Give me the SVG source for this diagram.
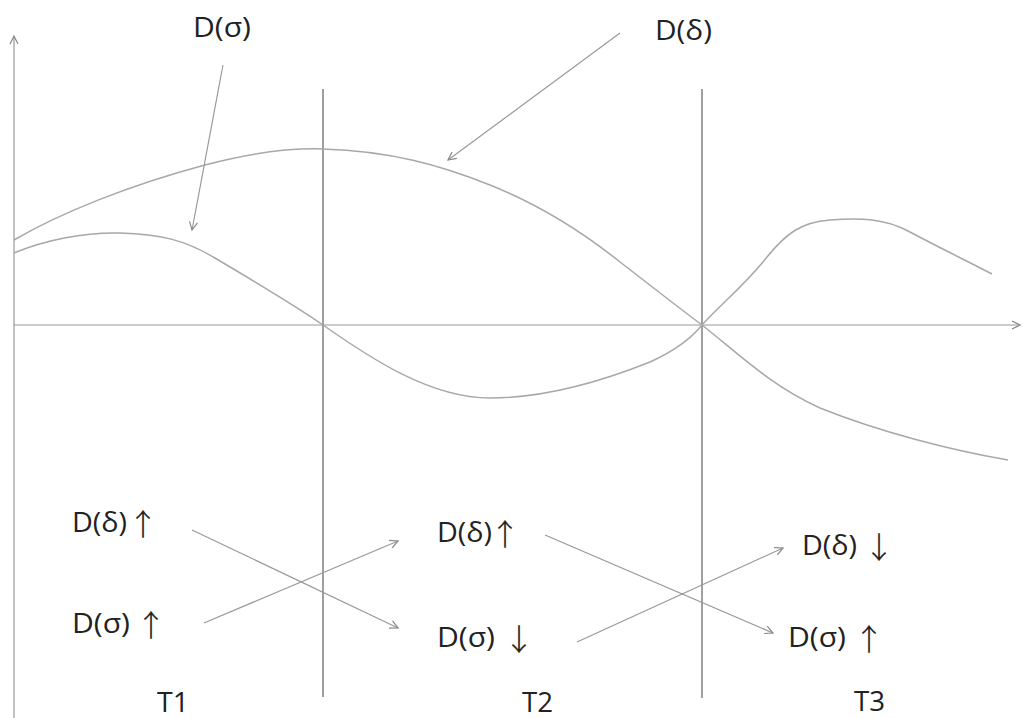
<svg xmlns="http://www.w3.org/2000/svg" width="1023" height="718" viewBox="0 0 1023 718">
<style>
.t{font-family:"Open Sans","DejaVu Sans",sans-serif;font-size:28px;fill:#222;}
.a{font-family:"Noto Sans CJK SC","DejaVu Sans",sans-serif;font-size:30px;font-weight:300;fill:#222;stroke:#222;stroke-width:0.2;text-anchor:middle;}
.axis{stroke:#999;stroke-width:1.2;fill:none;}
.vline{stroke:#777;stroke-width:1.4;fill:none;}
.curve{stroke:#a8a8a8;stroke-width:1.5;fill:none;}
.arr{stroke:#999;stroke-width:1.2;fill:none;marker-end:url(#ah);}
</style>
<defs>
<marker id="ah" markerWidth="12" markerHeight="12" refX="9" refY="5" orient="auto" markerUnits="userSpaceOnUse">
<path d="M1,1 L9,5 L1,9" fill="none" stroke="#888" stroke-width="1.2"/>
</marker>
</defs>
<rect width="1023" height="718" fill="#fff"/>
<g id="axes">
<line class="axis" x1="14" y1="718" x2="14" y2="36" marker-end="url(#ah)"/>
<line class="axis" x1="14" y1="325" x2="1020" y2="325" marker-end="url(#ah)"/>
<line class="vline" x1="323" y1="89" x2="323" y2="697"/>
<line class="vline" x1="702" y1="89" x2="702" y2="698"/>
</g>
<g id="curve-delta">
<path class="curve" d="M14,240 C60,213 130,185 205,165 C250,153 290,148 323,149 C390,151 440,165 490,185 C540,205 580,230 620,262 C650,285 675,305 702,325 C740,355 770,385 820,408 C880,432 950,450 1008,460"/>
</g>
<g id="curve-sigma">
<path class="curve" d="M14,253 C45,240 85,232 120,233 C160,234 185,240 215,258 C255,282 290,302 323,325 C370,358 430,398 490,398 C550,398 610,378 650,362 C672,352 690,340 702,325 C720,305 745,285 767,257 C785,235 800,222 830,220 C860,218 885,218 910,232 C940,248 965,260 992,274"/>
</g>
<g id="label-sigma"><text class="t" x="193" y="37" textLength="58" lengthAdjust="spacingAndGlyphs">D(σ)</text></g>
<g id="label-delta"><text class="t" x="655" y="40" textLength="57" lengthAdjust="spacingAndGlyphs">D(δ)</text></g>
<g id="t1-delta"><text class="t" x="72" y="532" textLength="55" lengthAdjust="spacingAndGlyphs">D(δ)</text><text class="a" x="143" y="535">↑</text></g>
<g id="t1-sigma"><text class="t" x="72" y="633" textLength="58" lengthAdjust="spacingAndGlyphs">D(σ)</text><text class="a" x="151" y="636">↑</text></g>
<g id="t1"><text class="t" x="157" y="712" textLength="32" lengthAdjust="spacingAndGlyphs">T1</text></g>
<g id="t2-delta"><text class="t" x="437" y="542" textLength="55" lengthAdjust="spacingAndGlyphs">D(δ)</text><text class="a" x="505" y="545">↑</text></g>
<g id="t2-sigma"><text class="t" x="437" y="647" textLength="58" lengthAdjust="spacingAndGlyphs">D(σ)</text><text class="a" x="519" y="650">↓</text></g>
<g id="t2"><text class="t" x="522" y="712" textLength="31" lengthAdjust="spacingAndGlyphs">T2</text></g>
<g id="t3-delta"><text class="t" x="802" y="555" textLength="55" lengthAdjust="spacingAndGlyphs">D(δ)</text><text class="a" x="879" y="558">↓</text></g>
<g id="t3-sigma"><text class="t" x="788" y="647" textLength="58" lengthAdjust="spacingAndGlyphs">D(σ)</text><text class="a" x="869" y="650">↑</text></g>
<g id="t3"><text class="t" x="854" y="711" textLength="31" lengthAdjust="spacingAndGlyphs">T3</text></g>
<g id="connectors">
<line class="arr" x1="223" y1="65" x2="192" y2="230"/>
<line class="arr" x1="620" y1="33" x2="448" y2="160"/>
<line class="arr" x1="192" y1="530" x2="398" y2="628"/>
<line class="arr" x1="204" y1="623" x2="398" y2="541"/>
<line class="arr" x1="545" y1="535" x2="773" y2="633"/>
<line class="arr" x1="577" y1="642" x2="783" y2="548"/>
</g>
</svg>
